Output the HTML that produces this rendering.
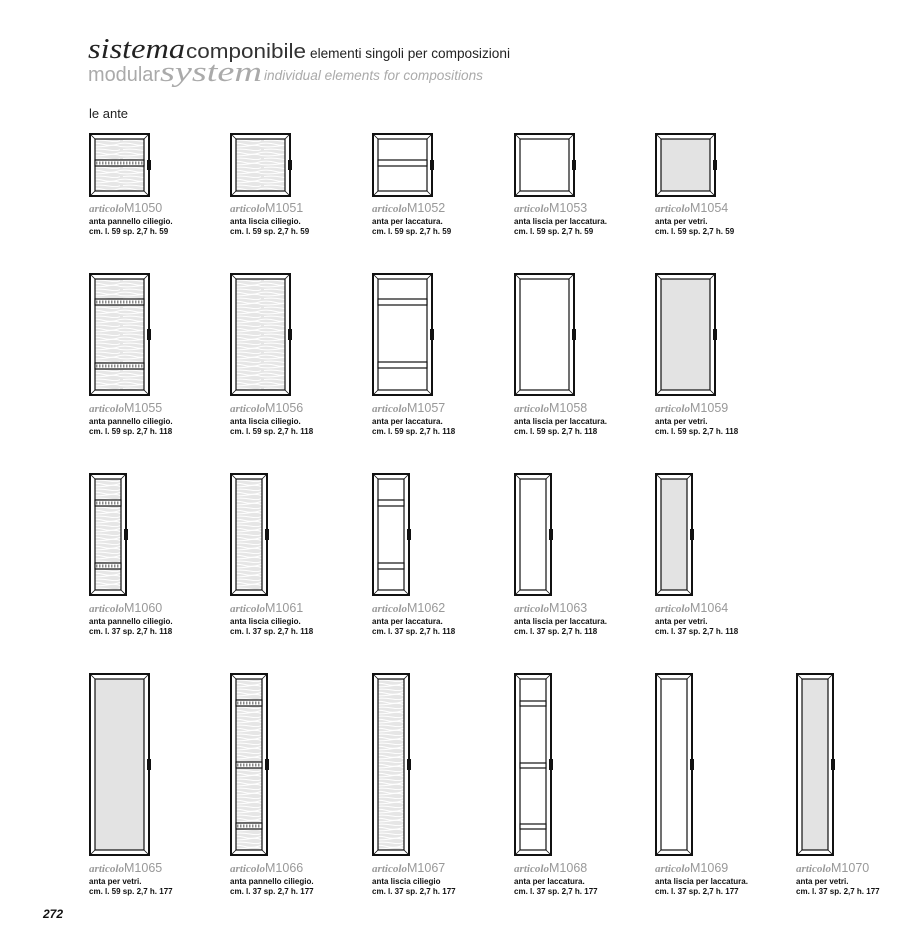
<!DOCTYPE html>
<html><head><meta charset="utf-8"><style>
body{margin:0;background:#fff;}
svg{display:block;font-family:"Liberation Sans",Arial,sans-serif;}
.o{fill:#fff;stroke:#111;stroke-width:2}
.i{stroke:#111;stroke-width:1.2}
.b{stroke:#111;stroke-width:0.8}
.a{font-family:"Liberation Serif",serif;font-style:italic;font-weight:bold;fill:#999;font-size:11px}
.m{fill:#999;font-size:12.5px}
.t{fill:#111;font-size:8px;font-weight:bold}
.r{fill:#fff;stroke:#111;stroke-width:1.2}
.d{stroke:#888;stroke-width:3;stroke-dasharray:1.5 1.5}
</style></head><body>
<svg width="908" height="951" viewBox="0 0 908 951" xmlns="http://www.w3.org/2000/svg">
<defs>
<pattern id="w" width="31" height="9" patternUnits="userSpaceOnUse">
<rect width="31" height="9" fill="#e6e6e6"/>
<path d="M0 1.5 Q8 0.5 15 2.5 T31 1.5 M0 4.5 Q9 5.5 18 4 T31 4.5 M3 7.5 Q12 6.5 20 8 T31 7.5" stroke="#fff" stroke-width="1" fill="none"/>
</pattern>
</defs>
<text x="88" y="58" font-family="Liberation Serif,serif" font-style="italic" font-size="28" fill="#222" textLength="97" lengthAdjust="spacingAndGlyphs">sistema</text>
<text x="186" y="58" font-size="20" fill="#333" textLength="120" lengthAdjust="spacingAndGlyphs">componibile</text>
<text x="310" y="58" font-size="13.5" fill="#222" textLength="200" lengthAdjust="spacingAndGlyphs">elementi singoli per composizioni</text>
<text x="88" y="81" font-size="20" fill="#aaa" textLength="72" lengthAdjust="spacingAndGlyphs">modular</text>
<text x="160" y="81" font-family="Liberation Serif,serif" font-style="italic" font-size="28" fill="#aaa" textLength="102" lengthAdjust="spacingAndGlyphs">system</text>
<text x="264" y="80" font-size="13.5" font-style="italic" fill="#aaa" textLength="219" lengthAdjust="spacingAndGlyphs">individual elements for compositions</text>
<text x="89" y="118" font-size="13" fill="#222">le ante</text>
<text x="43" y="918" font-size="12" font-weight="bold" font-style="italic" fill="#111">272</text>

<!-- ROW 1 -->
<g transform="translate(89,133)"><rect class="o" x="1" y="1" width="59" height="62"/><rect class="i" x="6" y="6" width="49" height="52" fill="url(#w)"/><path class="b" d="M1 1L6 6M60 1L55 6M1 63L6 58M60 63L55 58"/><rect class="r" x="6" y="27" width="49" height="6"/><line class="d" x1="7" y1="30" x2="54" y2="30"/><rect x="58" y="27" width="4" height="10" fill="#111"/></g>
<g transform="translate(230,133)"><rect class="o" x="1" y="1" width="59" height="62"/><rect class="i" x="6" y="6" width="49" height="52" fill="url(#w)"/><path class="b" d="M1 1L6 6M60 1L55 6M1 63L6 58M60 63L55 58"/><rect x="58" y="27" width="4" height="10" fill="#111"/></g>
<g transform="translate(372,133)"><rect class="o" x="1" y="1" width="59" height="62"/><rect class="i" x="6" y="6" width="49" height="52" fill="#fff"/><path class="b" d="M1 1L6 6M60 1L55 6M1 63L6 58M60 63L55 58"/><rect class="r" x="6" y="27" width="49" height="6"/><rect x="58" y="27" width="4" height="10" fill="#111"/></g>
<g transform="translate(514,133)"><rect class="o" x="1" y="1" width="59" height="62"/><rect class="i" x="6" y="6" width="49" height="52" fill="#fff"/><path class="b" d="M1 1L6 6M60 1L55 6M1 63L6 58M60 63L55 58"/><rect x="58" y="27" width="4" height="10" fill="#111"/></g>
<g transform="translate(655,133)"><rect class="o" x="1" y="1" width="59" height="62"/><rect class="i" x="6" y="6" width="49" height="52" fill="#e3e3e3"/><path class="b" d="M1 1L6 6M60 1L55 6M1 63L6 58M60 63L55 58"/><rect x="58" y="27" width="4" height="10" fill="#111"/></g>

<g transform="translate(89,212)"><text class="a" x="0" y="0" textLength="35" lengthAdjust="spacingAndGlyphs">articolo</text><text class="m" x="35" y="0">M1050</text><text class="t" x="0" y="12">anta pannello ciliegio.</text><text class="t" x="0" y="22">cm. l. 59 sp. 2,7 h. 59</text></g>
<g transform="translate(230,212)"><text class="a" x="0" y="0" textLength="35" lengthAdjust="spacingAndGlyphs">articolo</text><text class="m" x="35" y="0">M1051</text><text class="t" x="0" y="12">anta liscia ciliegio.</text><text class="t" x="0" y="22">cm. l. 59 sp. 2,7 h. 59</text></g>
<g transform="translate(372,212)"><text class="a" x="0" y="0" textLength="35" lengthAdjust="spacingAndGlyphs">articolo</text><text class="m" x="35" y="0">M1052</text><text class="t" x="0" y="12">anta per laccatura.</text><text class="t" x="0" y="22">cm. l. 59 sp. 2,7 h. 59</text></g>
<g transform="translate(514,212)"><text class="a" x="0" y="0" textLength="35" lengthAdjust="spacingAndGlyphs">articolo</text><text class="m" x="35" y="0">M1053</text><text class="t" x="0" y="12">anta liscia per laccatura.</text><text class="t" x="0" y="22">cm. l. 59 sp. 2,7 h. 59</text></g>
<g transform="translate(655,212)"><text class="a" x="0" y="0" textLength="35" lengthAdjust="spacingAndGlyphs">articolo</text><text class="m" x="35" y="0">M1054</text><text class="t" x="0" y="12">anta per vetri.</text><text class="t" x="0" y="22">cm. l. 59 sp. 2,7 h. 59</text></g>

<!-- ROW 2 -->
<g transform="translate(89,273)"><rect class="o" x="1" y="1" width="59" height="121"/><rect class="i" x="6" y="6" width="49" height="111" fill="url(#w)"/><path class="b" d="M1 1L6 6M60 1L55 6M1 122L6 117M60 122L55 117"/><rect class="r" x="6" y="26" width="49" height="6"/><line class="d" x1="7" y1="29" x2="54" y2="29"/><rect class="r" x="6" y="90" width="49" height="6"/><line class="d" x1="7" y1="93" x2="54" y2="93"/><rect x="58" y="56" width="4" height="11" fill="#111"/></g>
<g transform="translate(230,273)"><rect class="o" x="1" y="1" width="59" height="121"/><rect class="i" x="6" y="6" width="49" height="111" fill="url(#w)"/><path class="b" d="M1 1L6 6M60 1L55 6M1 122L6 117M60 122L55 117"/><rect x="58" y="56" width="4" height="11" fill="#111"/></g>
<g transform="translate(372,273)"><rect class="o" x="1" y="1" width="59" height="121"/><rect class="i" x="6" y="6" width="49" height="111" fill="#fff"/><path class="b" d="M1 1L6 6M60 1L55 6M1 122L6 117M60 122L55 117"/><rect class="r" x="6" y="26" width="49" height="6"/><rect class="r" x="6" y="89" width="49" height="6"/><rect x="58" y="56" width="4" height="11" fill="#111"/></g>
<g transform="translate(514,273)"><rect class="o" x="1" y="1" width="59" height="121"/><rect class="i" x="6" y="6" width="49" height="111" fill="#fff"/><path class="b" d="M1 1L6 6M60 1L55 6M1 122L6 117M60 122L55 117"/><rect x="58" y="56" width="4" height="11" fill="#111"/></g>
<g transform="translate(655,273)"><rect class="o" x="1" y="1" width="59" height="121"/><rect class="i" x="6" y="6" width="49" height="111" fill="#e3e3e3"/><path class="b" d="M1 1L6 6M60 1L55 6M1 122L6 117M60 122L55 117"/><rect x="58" y="56" width="4" height="11" fill="#111"/></g>

<g transform="translate(89,412)"><text class="a" x="0" y="0" textLength="35" lengthAdjust="spacingAndGlyphs">articolo</text><text class="m" x="35" y="0">M1055</text><text class="t" x="0" y="12">anta pannello ciliegio.</text><text class="t" x="0" y="22">cm. l. 59 sp. 2,7 h. 118</text></g>
<g transform="translate(230,412)"><text class="a" x="0" y="0" textLength="35" lengthAdjust="spacingAndGlyphs">articolo</text><text class="m" x="35" y="0">M1056</text><text class="t" x="0" y="12">anta liscia ciliegio.</text><text class="t" x="0" y="22">cm. l. 59 sp. 2,7 h. 118</text></g>
<g transform="translate(372,412)"><text class="a" x="0" y="0" textLength="35" lengthAdjust="spacingAndGlyphs">articolo</text><text class="m" x="35" y="0">M1057</text><text class="t" x="0" y="12">anta per laccatura.</text><text class="t" x="0" y="22">cm. l. 59 sp. 2,7 h. 118</text></g>
<g transform="translate(514,412)"><text class="a" x="0" y="0" textLength="35" lengthAdjust="spacingAndGlyphs">articolo</text><text class="m" x="35" y="0">M1058</text><text class="t" x="0" y="12">anta liscia per laccatura.</text><text class="t" x="0" y="22">cm. l. 59 sp. 2,7 h. 118</text></g>
<g transform="translate(655,412)"><text class="a" x="0" y="0" textLength="35" lengthAdjust="spacingAndGlyphs">articolo</text><text class="m" x="35" y="0">M1059</text><text class="t" x="0" y="12">anta per vetri.</text><text class="t" x="0" y="22">cm. l. 59 sp. 2,7 h. 118</text></g>

<!-- ROW 3 -->
<g transform="translate(89,473)"><rect class="o" x="1" y="1" width="36" height="121"/><rect class="i" x="6" y="6" width="26" height="111" fill="url(#w)"/><path class="b" d="M1 1L6 6M37 1L32 6M1 122L6 117M37 122L32 117"/><rect class="r" x="6" y="27" width="26" height="6"/><line class="d" x1="7" y1="30" x2="31" y2="30"/><rect class="r" x="6" y="90" width="26" height="6"/><line class="d" x1="7" y1="93" x2="31" y2="93"/><rect x="35" y="56" width="4" height="11" fill="#111"/></g>
<g transform="translate(230,473)"><rect class="o" x="1" y="1" width="36" height="121"/><rect class="i" x="6" y="6" width="26" height="111" fill="url(#w)"/><path class="b" d="M1 1L6 6M37 1L32 6M1 122L6 117M37 122L32 117"/><rect x="35" y="56" width="4" height="11" fill="#111"/></g>
<g transform="translate(372,473)"><rect class="o" x="1" y="1" width="36" height="121"/><rect class="i" x="6" y="6" width="26" height="111" fill="#fff"/><path class="b" d="M1 1L6 6M37 1L32 6M1 122L6 117M37 122L32 117"/><rect class="r" x="6" y="27" width="26" height="6"/><rect class="r" x="6" y="90" width="26" height="6"/><rect x="35" y="56" width="4" height="11" fill="#111"/></g>
<g transform="translate(514,473)"><rect class="o" x="1" y="1" width="36" height="121"/><rect class="i" x="6" y="6" width="26" height="111" fill="#fff"/><path class="b" d="M1 1L6 6M37 1L32 6M1 122L6 117M37 122L32 117"/><rect x="35" y="56" width="4" height="11" fill="#111"/></g>
<g transform="translate(655,473)"><rect class="o" x="1" y="1" width="36" height="121"/><rect class="i" x="6" y="6" width="26" height="111" fill="#e3e3e3"/><path class="b" d="M1 1L6 6M37 1L32 6M1 122L6 117M37 122L32 117"/><rect x="35" y="56" width="4" height="11" fill="#111"/></g>

<g transform="translate(89,612)"><text class="a" x="0" y="0" textLength="35" lengthAdjust="spacingAndGlyphs">articolo</text><text class="m" x="35" y="0">M1060</text><text class="t" x="0" y="12">anta pannello ciliegio.</text><text class="t" x="0" y="22">cm. l. 37 sp. 2,7 h. 118</text></g>
<g transform="translate(230,612)"><text class="a" x="0" y="0" textLength="35" lengthAdjust="spacingAndGlyphs">articolo</text><text class="m" x="35" y="0">M1061</text><text class="t" x="0" y="12">anta liscia ciliegio.</text><text class="t" x="0" y="22">cm. l. 37 sp. 2,7 h. 118</text></g>
<g transform="translate(372,612)"><text class="a" x="0" y="0" textLength="35" lengthAdjust="spacingAndGlyphs">articolo</text><text class="m" x="35" y="0">M1062</text><text class="t" x="0" y="12">anta per laccatura.</text><text class="t" x="0" y="22">cm. l. 37 sp. 2,7 h. 118</text></g>
<g transform="translate(514,612)"><text class="a" x="0" y="0" textLength="35" lengthAdjust="spacingAndGlyphs">articolo</text><text class="m" x="35" y="0">M1063</text><text class="t" x="0" y="12">anta liscia per laccatura.</text><text class="t" x="0" y="22">cm. l. 37 sp. 2,7 h. 118</text></g>
<g transform="translate(655,612)"><text class="a" x="0" y="0" textLength="35" lengthAdjust="spacingAndGlyphs">articolo</text><text class="m" x="35" y="0">M1064</text><text class="t" x="0" y="12">anta per vetri.</text><text class="t" x="0" y="22">cm. l. 37 sp. 2,7 h. 118</text></g>

<!-- ROW 4 -->
<g transform="translate(89,673)"><rect class="o" x="1" y="1" width="59" height="181"/><rect class="i" x="6" y="6" width="49" height="171" fill="#e3e3e3"/><path class="b" d="M1 1L6 6M60 1L55 6M1 182L6 177M60 182L55 177"/><rect x="58" y="86" width="4" height="11" fill="#111"/></g>
<g transform="translate(230,673)"><rect class="o" x="1" y="1" width="36" height="181"/><rect class="i" x="6" y="6" width="26" height="171" fill="url(#w)"/><path class="b" d="M1 1L6 6M37 1L32 6M1 182L6 177M37 182L32 177"/><rect class="r" x="6" y="27" width="26" height="6"/><line class="d" x1="7" y1="30" x2="31" y2="30"/><rect class="r" x="6" y="89" width="26" height="6"/><line class="d" x1="7" y1="92" x2="31" y2="92"/><rect class="r" x="6" y="150" width="26" height="6"/><line class="d" x1="7" y1="153" x2="31" y2="153"/><rect x="35" y="86" width="4" height="11" fill="#111"/></g>
<g transform="translate(372,673)"><rect class="o" x="1" y="1" width="36" height="181"/><rect class="i" x="6" y="6" width="26" height="171" fill="url(#w)"/><path class="b" d="M1 1L6 6M37 1L32 6M1 182L6 177M37 182L32 177"/><rect x="35" y="86" width="4" height="11" fill="#111"/></g>
<g transform="translate(514,673)"><rect class="o" x="1" y="1" width="36" height="181"/><rect class="i" x="6" y="6" width="26" height="171" fill="#fff"/><path class="b" d="M1 1L6 6M37 1L32 6M1 182L6 177M37 182L32 177"/><rect class="r" x="6" y="28" width="26" height="5"/><rect class="r" x="6" y="90" width="26" height="5"/><rect class="r" x="6" y="151" width="26" height="5"/><rect x="35" y="86" width="4" height="11" fill="#111"/></g>
<g transform="translate(655,673)"><rect class="o" x="1" y="1" width="36" height="181"/><rect class="i" x="6" y="6" width="26" height="171" fill="#fff"/><path class="b" d="M1 1L6 6M37 1L32 6M1 182L6 177M37 182L32 177"/><rect x="35" y="86" width="4" height="11" fill="#111"/></g>
<g transform="translate(796,673)"><rect class="o" x="1" y="1" width="36" height="181"/><rect class="i" x="6" y="6" width="26" height="171" fill="#e3e3e3"/><path class="b" d="M1 1L6 6M37 1L32 6M1 182L6 177M37 182L32 177"/><rect x="35" y="86" width="4" height="11" fill="#111"/></g>

<g transform="translate(89,872)"><text class="a" x="0" y="0" textLength="35" lengthAdjust="spacingAndGlyphs">articolo</text><text class="m" x="35" y="0">M1065</text><text class="t" x="0" y="12">anta per vetri.</text><text class="t" x="0" y="22">cm. l. 59 sp. 2,7 h. 177</text></g>
<g transform="translate(230,872)"><text class="a" x="0" y="0" textLength="35" lengthAdjust="spacingAndGlyphs">articolo</text><text class="m" x="35" y="0">M1066</text><text class="t" x="0" y="12">anta pannello ciliegio.</text><text class="t" x="0" y="22">cm. l. 37 sp. 2,7 h. 177</text></g>
<g transform="translate(372,872)"><text class="a" x="0" y="0" textLength="35" lengthAdjust="spacingAndGlyphs">articolo</text><text class="m" x="35" y="0">M1067</text><text class="t" x="0" y="12">anta liscia ciliegio</text><text class="t" x="0" y="22">cm. l. 37 sp. 2,7 h. 177</text></g>
<g transform="translate(514,872)"><text class="a" x="0" y="0" textLength="35" lengthAdjust="spacingAndGlyphs">articolo</text><text class="m" x="35" y="0">M1068</text><text class="t" x="0" y="12">anta per laccatura.</text><text class="t" x="0" y="22">cm. l. 37 sp. 2,7 h. 177</text></g>
<g transform="translate(655,872)"><text class="a" x="0" y="0" textLength="35" lengthAdjust="spacingAndGlyphs">articolo</text><text class="m" x="35" y="0">M1069</text><text class="t" x="0" y="12">anta liscia per laccatura.</text><text class="t" x="0" y="22">cm. l. 37 sp. 2,7 h. 177</text></g>
<g transform="translate(796,872)"><text class="a" x="0" y="0" textLength="35" lengthAdjust="spacingAndGlyphs">articolo</text><text class="m" x="35" y="0">M1070</text><text class="t" x="0" y="12">anta per vetri.</text><text class="t" x="0" y="22">cm. l. 37 sp. 2,7 h. 177</text></g>
</svg>
</body></html>
